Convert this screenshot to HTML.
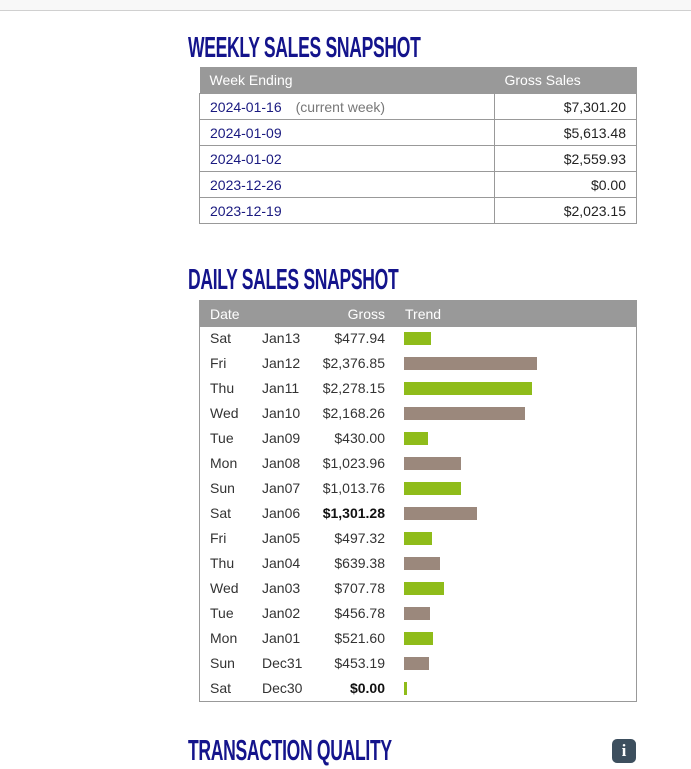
<!DOCTYPE html>
<html><head><meta charset="utf-8"><style>
body{margin:0;width:691px;height:769px;background:#fff;font-family:"Liberation Sans",sans-serif;position:relative;overflow:hidden}
.topbar{position:absolute;left:0;top:0;width:691px;height:10px;background:#f8f8f8;border-bottom:1px solid #d0d0d0}
.title{position:absolute;left:188px;font-weight:bold;font-size:29px;color:#14148c;transform:scaleX(0.605);transform-origin:left top;white-space:nowrap;letter-spacing:-0.5px}
table{position:absolute;border-collapse:collapse;font-size:14px}
#weekly{left:199px;top:67px;width:438px}
#weekly th{background:#999;color:#fff;font-weight:normal;height:26px;text-align:left;padding:0 10px}
#weekly td{border:1px solid #999;height:25px;padding:0 10px;color:#222}
#weekly td a{color:#1a1a80;text-decoration:none}
.cur{color:#777;margin-left:14px}
.r{text-align:right}
#daily-box{position:absolute;left:199px;top:300px;width:436px;height:400px;border:1px solid #999}
#daily-head{position:absolute;left:0;top:0;width:436px;height:26px;background:#999;color:#fff;font-size:14px}
.row{position:absolute;left:0;width:436px;height:25px;font-size:14px;color:#333}
.row span{position:absolute;top:3px}
.bar{position:absolute;top:5px;height:13px}
.info{position:absolute;left:612px;top:739px;width:24px;height:24px;border-radius:5px;background:#3d4f5e;color:#fff;font:bold 17px "Liberation Serif",serif;text-align:center;line-height:24px}
</style></head><body>
<div class="topbar"></div>
<div class="title" style="top:32px">WEEKLY SALES SNAPSHOT</div>
<table id="weekly">
<tr><th>Week Ending</th><th style="width:122px">Gross Sales</th></tr>
<tr><td><a href="#">2024-01-16</a><span class="cur">(current week)</span></td><td class="r">$7,301.20</td></tr>
<tr><td><a href="#">2024-01-09</a></td><td class="r">$5,613.48</td></tr>
<tr><td><a href="#">2024-01-02</a></td><td class="r">$2,559.93</td></tr>
<tr><td><a href="#">2023-12-26</a></td><td class="r">$0.00</td></tr>
<tr><td><a href="#">2023-12-19</a></td><td class="r">$2,023.15</td></tr>
</table>
<div class="title" style="top:264px">DAILY SALES SNAPSHOT</div>
<div id="daily-box">
<div id="daily-head">
<span style="position:absolute;left:10px;top:5px">Date</span>
<span style="position:absolute;right:251px;top:5px">Gross</span>
<span style="position:absolute;left:205px;top:5px">Trend</span>
</div>
</div>
<div class="title" style="top:735px">TRANSACTION QUALITY</div>
<div class="info">i</div>
<script>
const days=["Sat","Fri","Thu","Wed","Tue","Mon","Sun","Sat","Fri","Thu","Wed","Tue","Mon","Sun","Sat"];
const dates=["Jan13","Jan12","Jan11","Jan10","Jan09","Jan08","Jan07","Jan06","Jan05","Jan04","Jan03","Jan02","Jan01","Dec31","Dec30"];
const gross=[477.94,2376.85,2278.15,2168.26,430.00,1023.96,1013.76,1301.28,497.32,639.38,707.78,456.78,521.60,453.19,0.00];
const boldRows=[7,14];
const box=document.getElementById('daily-box');
const xScale=v=>Math.max(3,v*0.056);
const fmt=v=>'$'+v.toLocaleString('en-US',{minimumFractionDigits:2,maximumFractionDigits:2});
gross.forEach((v,i)=>{
 const r=document.createElement('div');
 r.className='row';r.style.top=(26+i*25)+'px';
 
 
 const b=boldRows.includes(i)?'font-weight:bold;color:#111;':'';
 r.innerHTML='<span style="left:10px">'+days[i]+'</span><span style="left:62px">'+dates[i]+'</span><span style="right:251px;'+b+'">'+fmt(v)+'</span>';
 const bar=document.createElement('div');
 bar.className='bar';
 
 
 bar.style.left='204px';
 bar.style.width=xScale(v)+'px';
 bar.style.background=i%2===0?'#8fbc1a':'#9b887c';
 r.appendChild(bar);
 box.appendChild(r);
});
</script>
</body></html>
